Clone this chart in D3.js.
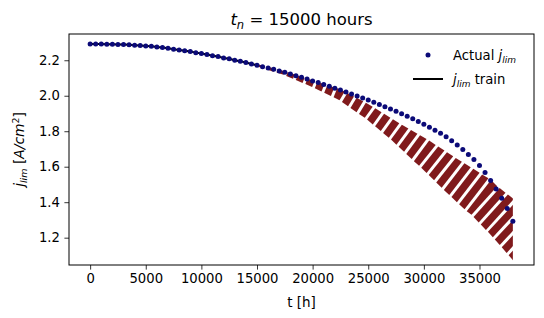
<!DOCTYPE html>
<meta charset="utf-8">
<style>
body { margin: 0; background: #fff; }
text { font-family: "DejaVu Sans", sans-serif; fill: #000; }
.axis text { font-size: 13.2px; }
.axis path, .axis line { stroke: #000; stroke-width: 0.8px; }
.it { font-style: italic; }
</style>
<body>
<script src="https://d3js.org/d3.v7.min.js"></script>
<script>

var width = 544,
    height = 318,
    margin = {top: 34, right: 10, bottom: 53, left: 69};

// measured hours and limiting current density (every 500 h)
var tActual = [0, 500, 1000, 1500, 2000, 2500, 3000, 3500, 4000, 4500,
  5000, 5500, 6000, 6500, 7000, 7500, 8000, 8500, 9000, 9500,
  10000, 10500, 11000, 11500, 12000, 12500, 13000, 13500, 14000, 14500,
  15000, 15500, 16000, 16500, 17000, 17500, 18000, 18500, 19000, 19500,
  20000, 20500, 21000, 21500, 22000, 22500, 23000, 23500, 24000, 24500,
  25000, 25500, 26000, 26500, 27000, 27500, 28000, 28500, 29000, 29500,
  30000, 30500, 31000, 31500, 32000, 32500, 33000, 33500, 34000, 34500,
  35000, 35500, 36000, 36500, 37000, 37500, 38000];
var jActual = [2.292, 2.292, 2.292, 2.290, 2.290, 2.289, 2.289, 2.287, 2.285, 2.283,
  2.281, 2.279, 2.275, 2.272, 2.268, 2.262, 2.258, 2.253, 2.249, 2.243,
  2.238, 2.232, 2.226, 2.221, 2.213, 2.208, 2.200, 2.194, 2.187, 2.179,
  2.172, 2.164, 2.157, 2.149, 2.140, 2.132, 2.123, 2.113, 2.104, 2.095,
  2.083, 2.074, 2.063, 2.053, 2.042, 2.032, 2.021, 2.010, 1.998, 1.987,
  1.976, 1.963, 1.951, 1.938, 1.925, 1.912, 1.899, 1.884, 1.870, 1.855,
  1.840, 1.823, 1.806, 1.788, 1.769, 1.747, 1.722, 1.697, 1.669, 1.641,
  1.607, 1.567, 1.522, 1.475, 1.422, 1.364, 1.292];

// training window ends at t_n
var tn = 15000;

// spread of the predicted curves after t_n
var predT     = [15000, 17500, 20000, 22500, 25000, 27500, 30000, 32500, 35000, 37000, 38000];
var predUpper = [2.172, 2.132, 2.080, 2.030, 1.948, 1.852, 1.765, 1.665, 1.568, 1.472, 1.425];
var predLower = [2.172, 2.122, 2.055, 1.980, 1.870, 1.740, 1.595, 1.445, 1.300, 1.170, 1.100];

var xTicks = [0, 5000, 10000, 15000, 20000, 25000, 30000, 35000];
var yTicks = [1.2, 1.4, 1.6, 1.8, 2.0, 2.2];

var x = d3.scaleLinear()
    .domain([-1900, 39900])
    .range([margin.left, width - margin.right]);

var y = d3.scaleLinear()
    .domain([1.046, 2.348])
    .range([height - margin.bottom, margin.top]);

var svg = d3.select("body").append("svg")
    .attr("width", width)
    .attr("height", height);

svg.append("defs").append("clipPath").attr("id", "predclip")
  .append("rect")
    .attr("x", x(tn) - 20)
    .attr("y", margin.top)
    .attr("width", x(38000) - x(tn) + 20)
    .attr("height", height - margin.top - margin.bottom);

// training line
var trainT = tActual.filter(function(t) { return t <= tn; });
var line = d3.line()
    .x(function(d) { return x(d); })
    .y(function(d, i) { return y(jActual[i]); });

svg.append("path")
    .datum(trainT)
    .attr("d", line)
    .attr("fill", "none")
    .attr("stroke", "#000")
    .attr("stroke-width", 2);

// predicted band: stack of dashed curves, built as dash blocks along the centre
var up = d3.scaleLinear().domain(predT).range(predUpper),
    lo = d3.scaleLinear().domain(predT).range(predLower);

// run the centre line past the last point so the tilted blocks reach the cut at 38000
var pts = [];
for (var t = tn; t <= 40500; t += 25) {
  var yu = y(up(t)), yl = y(lo(t));
  pts.push({px: x(t), py: (yu + yl) / 2, hv: (yl - yu) / 2});
}
pts[0].s = 0;
for (var i = 1; i < pts.length; i++) {
  pts[i].s = pts[i - 1].s + Math.hypot(pts[i].px - pts[i - 1].px, pts[i].py - pts[i - 1].py);
}

function pointAt(s) {
  var i = 1;
  while (i < pts.length - 1 && pts[i].s < s) i++;
  var a = pts[i - 1], b = pts[i],
      k = (s - a.s) / (b.s - a.s),
      len = b.s - a.s,
      dx = (b.px - a.px) / len, dy = (b.py - a.py) / len,
      hv = a.hv + k * (b.hv - a.hv),
      h = hv * dx + 1.1;
  return {px: a.px + k * (b.px - a.px), py: a.py + k * (b.py - a.py), nx: -dy * h, ny: dx * h};
}

var dashOn = 7.4, dashOff = 3.0, blocks = [];
for (var s0 = 0; s0 < pts[pts.length - 1].s - dashOn; s0 += dashOn + dashOff) {
  var p = pointAt(s0), q = pointAt(s0 + dashOn);
  blocks.push([[p.px + p.nx, p.py + p.ny], [q.px + q.nx, q.py + q.ny],
               [q.px - q.nx, q.py - q.ny], [p.px - p.nx, p.py - p.ny]]);
}

svg.append("g")
    .attr("clip-path", "url(#predclip)")
  .selectAll("path")
    .data(blocks)
  .enter().append("path")
    .attr("d", function(d) { return "M" + d.join("L") + "Z"; })
    .attr("fill", "#801a1c");

// actual points
svg.append("g")
  .selectAll("circle")
    .data(tActual)
  .enter().append("circle")
    .attr("cx", function(d) { return x(d); })
    .attr("cy", function(d, i) { return y(jActual[i]); })
    .attr("r", 2.5)
    .attr("fill", "#0b0a78");

// axes
svg.append("g")
    .attr("class", "axis")
    .attr("transform", "translate(0," + (height - margin.bottom) + ")")
    .call(d3.axisBottom(x).tickValues(xTicks).tickFormat(d3.format("d")).tickSize(4.6).tickPadding(4.5))
    .call(function(g) { g.select(".domain").remove(); });

svg.append("g")
    .attr("class", "axis")
    .attr("transform", "translate(" + margin.left + ",0)")
    .call(d3.axisLeft(y).tickValues(yTicks).tickFormat(d3.format(".1f")).tickSize(4.6).tickPadding(4.5))
    .call(function(g) { g.select(".domain").remove(); });

svg.append("rect")
    .attr("x", margin.left)
    .attr("y", margin.top)
    .attr("width", width - margin.left - margin.right)
    .attr("height", height - margin.top - margin.bottom)
    .attr("fill", "none")
    .attr("stroke", "#000")
    .attr("stroke-width", 1);

var cx = (margin.left + width - margin.right) / 2;

// title
var title = svg.append("text")
    .attr("x", cx)
    .attr("y", 25)
    .attr("text-anchor", "middle")
    .style("font-size", "16.5px");
title.append("tspan").attr("class", "it").text("t");
title.append("tspan").attr("class", "it").attr("dy", 3.5).style("font-size", "11.5px").text("n");
title.append("tspan").attr("dy", -3.5).text(" = 15000 hours");

// x label
svg.append("text")
    .attr("x", cx)
    .attr("y", 307)
    .attr("text-anchor", "middle")
    .style("font-size", "13.5px")
    .text("t [h]");

// y label
var yl = svg.append("text")
    .attr("transform", "translate(24," + ((margin.top + height - margin.bottom) / 2) + ") rotate(-90)")
    .attr("text-anchor", "middle")
    .style("font-size", "13.8px");
yl.append("tspan").attr("class", "it").text("j");
yl.append("tspan").attr("class", "it").attr("dy", 3).style("font-size", "9.5px").text("lim");
yl.append("tspan").attr("dy", -3).text(" [");
yl.append("tspan").attr("class", "it").text("A/cm");
yl.append("tspan").attr("dy", -5).style("font-size", "9.5px").text("2");
yl.append("tspan").attr("dy", 5).text("]");

// legend
var lg = svg.append("g");
lg.append("circle")
    .attr("cx", 428).attr("cy", 55).attr("r", 2.5)
    .attr("fill", "#0b0a78");
var l1 = lg.append("text").attr("x", 453).attr("y", 60).style("font-size", "13.2px");
l1.append("tspan").text("Actual ");
l1.append("tspan").attr("class", "it").text("j");
l1.append("tspan").attr("class", "it").attr("dy", 3).style("font-size", "9px").text("lim");

lg.append("line")
    .attr("x1", 413).attr("x2", 443)
    .attr("y1", 79).attr("y2", 79)
    .attr("stroke", "#000")
    .attr("stroke-width", 2);
var l2 = lg.append("text").attr("x", 453).attr("y", 84).style("font-size", "13.2px");
l2.append("tspan").attr("class", "it").text("j");
l2.append("tspan").attr("class", "it").attr("dy", 3).style("font-size", "9px").text("lim");
l2.append("tspan").attr("dy", -3).text(" train");

</script>
